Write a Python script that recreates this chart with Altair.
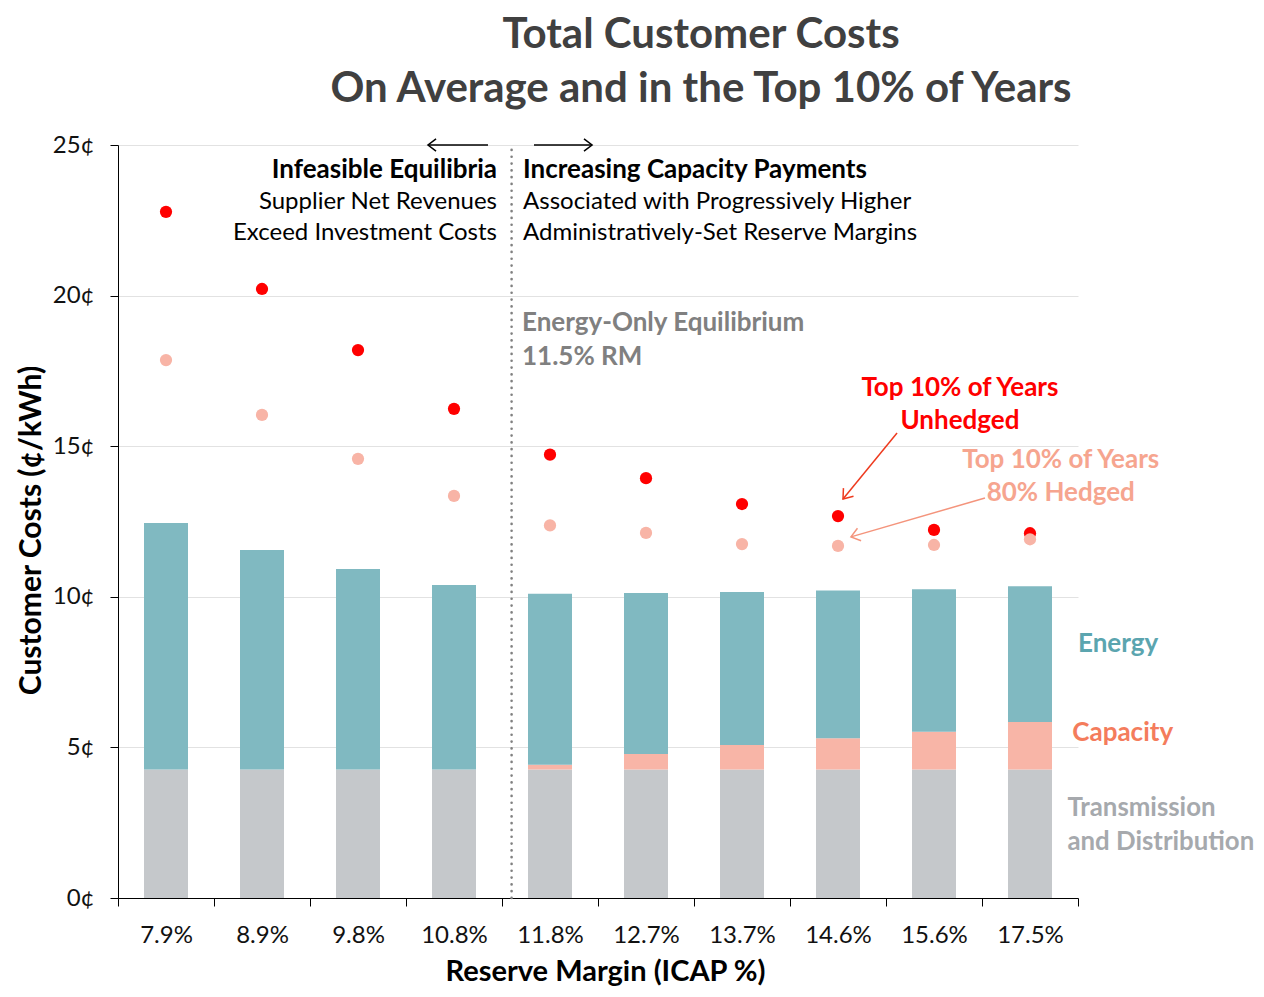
import altair as alt
import pandas as pd

# ---------------- data ----------------
reserve_margins = ["7.9%", "8.9%", "9.8%", "10.8%", "11.8%", "12.7%", "13.7%", "14.6%", "15.6%", "17.5%"]
td_cost = [4.27, 4.27, 4.27, 4.27, 4.27, 4.27, 4.27, 4.27, 4.27, 4.27]
capacity_cost = [0.0, 0.0, 0.0, 0.0, 0.15, 0.51, 0.81, 1.03, 1.25, 1.57]
energy_cost = [8.18, 7.28, 6.65, 6.12, 5.68, 5.35, 5.08, 4.91, 4.73, 4.51]
unhedged_top10 = [22.78, 20.22, 18.19, 16.24, 14.72, 13.94, 13.08, 12.68, 12.22, 12.11]
hedged_top10 = [17.86, 16.04, 14.58, 13.35, 12.37, 12.12, 11.75, 11.69, 11.72, 11.91]
y_ticks = [0, 5, 10, 15, 20, 25]
energy_only_position = 4.1  # 11.5% RM, between the 10.8% and 11.8% categories

FONT = "Lato"
C_ENERGY = "#80b9c1"
C_CAP = "#f8b5a7"
C_TD = "#c5c8cb"
C_RED = "#ff0000"
C_PINK = "#f8b4a6"

n = len(reserve_margins)

# ---------------- shared encodings ----------------
xscale = alt.Scale(domain=[0, n], nice=False, zero=False, padding=0)
yscale = alt.Scale(domain=[0, 25], nice=False, padding=0)

label_list = "[" + ",".join("'" + s + "'" for s in reserve_margins) + ",'']"
xaxis = alt.Axis(
    values=list(range(n + 1)),
    labelExpr=label_list + "[datum.value]",
    labelOffset=48,
    labelFlush=False,
    labelOverlap=False,
    grid=False,
    tickSize=8,
    tickColor="#000000",
    domainColor="#000000",
    labelFont=FONT,
    labelFontSize=24,
    labelColor="#111111",
    labelPadding=17,
    title="Reserve Margin (ICAP %)",
    titleFont=FONT,
    titleFontSize=29,
    titleFontWeight="bold",
    titleColor="#000000",
    titlePadding=10,
    titleX=487,
)
yaxis = alt.Axis(
    values=y_ticks,
    labelExpr="datum.value + '¢'",
    grid=True,
    gridColor="#e2e2e2",
    tickSize=8,
    tickColor="#000000",
    domainColor="#000000",
    labelFont=FONT,
    labelFontSize=24,
    labelColor="#111111",
    labelPadding=16,
    title="Customer Costs (¢/kWh)",
    titleFont=FONT,
    titleFontSize=30,
    titleFontWeight="bold",
    titleColor="#000000",
    titlePadding=6,
    titleY=385,
)


def X(field="x"):
    return alt.X(field, type="quantitative", scale=xscale, axis=xaxis)


def Y(field="y", **kw):
    return alt.Y(field, type="quantitative", scale=yscale, axis=yaxis, **kw)


# ---------------- bars ----------------
rows = []
for i in range(n):
    rows.append({"x": i + 0.5, "y": td_cost[i], "component": "Transmission and Distribution", "ord": 0})
    rows.append({"x": i + 0.5, "y": capacity_cost[i], "component": "Capacity", "ord": 1})
    rows.append({"x": i + 0.5, "y": energy_cost[i], "component": "Energy", "ord": 2})
bar_df = pd.DataFrame(rows)

bars = alt.Chart(bar_df).mark_bar(size=44).encode(
    x=X(),
    y=Y(stack="zero"),
    color=alt.Color(
        "component:N",
        scale=alt.Scale(domain=["Transmission and Distribution", "Capacity", "Energy"],
                        range=[C_TD, C_CAP, C_ENERGY]),
        legend=None,
    ),
    order=alt.Order("ord:Q"),
)

# ---------------- dots ----------------
red_df = pd.DataFrame({"x": [i + 0.5 for i in range(n)], "y": unhedged_top10})
pink_df = pd.DataFrame({"x": [i + 0.5 for i in range(n)], "y": hedged_top10})
red_dots = alt.Chart(red_df).mark_circle(size=150, opacity=1, color=C_RED).encode(x=X(), y=Y())
pink_dots = alt.Chart(pink_df).mark_circle(size=150, opacity=1, color=C_PINK).encode(x=X(), y=Y())

# ---------------- divider ----------------
div_df = pd.DataFrame({"x": [energy_only_position], "y": [0], "y2": [25]})
divider = alt.Chart(div_df).mark_rule(
    color="#808080", strokeWidth=2.6, strokeDash=[0.1, 6.7], strokeCap="round"
).encode(x=X(), y=Y(), y2="y2")

# ---------------- arrows ----------------
def arrow(x1, y1, x2, y2, angle, color, width=1.5, head=300):
    df = pd.DataFrame({"x": [x1], "y": [y1], "x2": [x2], "y2": [y2]})
    line = alt.Chart(df).mark_rule(color=color, strokeWidth=width).encode(
        x=X(), y=Y(), x2="x2", y2="y2")
    hd = pd.DataFrame({"x": [x2], "y": [y2]})
    tip = alt.Chart(hd).mark_point(
        shape="M-1,-0.75L0,0L-1,0.75", filled=False, color=color, strokeWidth=width,
        size=head, angle=angle, opacity=1,
    ).encode(x=X(), y=Y())
    return line + tip


arrows = (
    arrow(3.854, 25, 3.229, 25, 180, "#000000", 1.5, 260)
    + arrow(4.333, 25, 4.938, 25, 0, "#000000", 1.5, 260)
    + arrow(8.115, 15.44, 7.552, 13.25, 129.3, "#ee3a1e", 1.5, 300)
    + arrow(9.031, 13.28, 7.635, 11.99, 163.8, "#f4947c", 1.5, 300)
)

# ---------------- annotation text ----------------
def text(items, color, weight, align, size):
    df = pd.DataFrame(items, columns=["x", "y", "t"])
    return alt.Chart(df).mark_text(
        font=FONT, fontSize=size, fontWeight=weight, color=color,
        align=align, baseline="middle",
    ).encode(x=X(), y=Y(), text="t:N")


B = 26   # bold annotation size
R = 24   # regular annotation size
texts = [
    text([(3.948, 24.17, "Infeasible Equilibria")], "#000000", "bold", "right", B),
    text([(3.948, 23.11, "Supplier Net Revenues"), (3.948, 22.08, "Exceed Investment Costs")],
         "#000000", "normal", "right", R),
    text([(4.219, 24.17, "Increasing Capacity Payments")], "#000000", "bold", "left", B),
    text([(4.219, 23.11, "Associated with Progressively Higher"),
          (4.219, 22.08, "Administratively-Set Reserve Margins")], "#000000", "normal", "left", R),
    text([(4.208, 19.09, "Energy-Only Equilibrium"), (4.208, 17.96, "11.5% RM")],
         "#808080", "bold", "left", B),
    text([(8.77, 16.93, "Top 10% of Years"), (8.77, 15.84, "Unhedged")], "#ff0000", "bold", "center", B),
    text([(9.82, 14.54, "Top 10% of Years"), (9.82, 13.45, "80% Hedged")], "#f6a58f", "bold", "center", B),
    text([(10.0, 8.43, "Energy")], "#5ba5af", "bold", "left", B),
    text([(9.94, 5.48, "Capacity")], "#f47c5c", "bold", "left", B),
    text([(9.89, 2.99, "Transmission"), (9.89, 1.86, "and Distribution")], "#a6a9ad", "bold", "left", 25.8),
]

chart = alt.layer(bars, divider, red_dots, pink_dots, arrows, *texts).properties(
    width=960,
    height=753,
    padding={"left": 110, "top": 137, "right": 178, "bottom": 89},
    autosize=alt.AutoSizeParams(type="none"),
    background="white",
    title=alt.TitleParams(
        ["Total Customer Costs", "On Average and in the Top 10% of Years"],
        font=FONT, fontSize=42, fontWeight="bold", color="#404040",
        anchor="middle", dx=103, offset=22, lineHeight=54,
    ),
).configure_view(stroke=None)

chart.save("out.html", embed_options={"renderer": "svg", "actions": False})
